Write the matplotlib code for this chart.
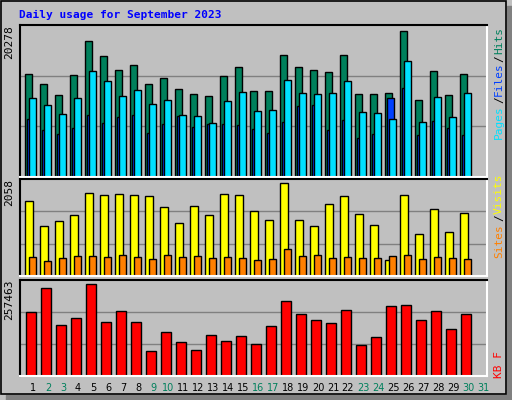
import numpy as np
import matplotlib.pyplot as plt
from matplotlib.patches import Rectangle

days = list(range(1, 32))
weekend = [2, 3, 9, 10, 16, 17, 23, 24, 30, 31]

hits = [14342, 12963, 11446, 14204, 18892, 16824, 14893, 15583, 12963, 13790,
        12273, 11584, 11170, 14066, 15307, 11997, 11997, 16962, 15307, 14893,
        14617, 16962, 11584, 11584, 11722, 20278, 10618, 14755, 11446, 14342]
files = [10894, 9929, 8688, 10894, 14755, 13376, 11170, 12135, 10067, 10618,
         8550, 8412, 7447, 10480, 11859, 9101, 9239, 13514, 11722, 11584,
         11722, 13376, 8964, 8826, 7998, 16134, 7585, 11032, 8274, 11722]
pages = [7998, 6481, 5930, 6757, 8550, 7447, 8274, 8550, 6068, 7309,
         8412, 6895, 7309, 7309, 7171, 6619, 6068, 7585, 9791, 9929,
         6481, 7860, 5378, 5930, 10894, 12411, 5792, 7722, 6757, 5792]
visits = [1655, 1096, 1208, 1342, 1834, 1790, 1812, 1790, 1767, 1521,
          1163, 1544, 1342, 1812, 1790, 1432, 1230, 2058, 1230, 1096,
          1588, 1767, 1365, 1119, 358, 1790, 917, 1476, 962, 1387]
sites = [425, 336, 403, 447, 447, 425, 470, 425, 380, 470,
         425, 447, 403, 425, 403, 358, 380, 604, 447, 470,
         403, 425, 403, 403, 447, 470, 380, 425, 403, 380]
kbytes = [178227, 246123, 141450, 161253, 257463, 149937, 181056, 149937, 70725, 121647,
          96186, 73554, 113160, 99015, 110331, 90528, 138621, 209346, 172569, 155595,
          147108, 183885, 87699, 107502, 195201, 198030, 155595, 181056, 130134, 172569]

C_HITS, C_FILES, C_PAGES = '#00805c', '#00e0ff', '#0040ff'
C_VISITS, C_SITES, C_KB = '#ffff00', '#ff8000', '#ff0000'
GRAY = '#c0c0c0'
MONO = 'DejaVu Sans Mono'

fig = plt.figure(figsize=(5.12, 4.0), dpi=100, facecolor=GRAY)

# outer frame with shadow
bg = fig.add_axes([0, 0, 1, 1])
bg.set_xlim(0, 512)
bg.set_ylim(400, 0)
bg.axis('off')
bg.add_patch(Rectangle((507, 6), 5, 394, color='#808080'))
bg.add_patch(Rectangle((6, 395), 506, 5, color='#808080'))
bg.add_patch(Rectangle((1, 1), 505, 393, fill=False, ec='black', lw=1.2))
bg.text(19, 15, 'Daily usage for September 2023', color='#0000ff',
        fontfamily=MONO, fontweight='bold', fontsize=8, va='center')


def panel(rect, series, maxval, label):
    ax = fig.add_axes(rect)
    ax.set_facecolor(GRAY)
    ax.set_xlim(0, 467)
    top = maxval * 1.04
    ax.set_ylim(0, top)
    for y in (top / 3, 2 * top / 3):
        ax.axhline(y, color='#808080', lw=1, zorder=0)
    x = np.arange(30) * 15
    for vals, off, w, col in series:
        ax.bar(x + off, vals, width=w, align='edge', color=col,
               edgecolor='black', lw=1, zorder=2)
    ax.set_xticks([])
    ax.set_yticks([])
    for s in ('top', 'left'):
        ax.spines[s].set_color('black')
    for s in ('bottom', 'right'):
        ax.spines[s].set_color('white')
    for s in ax.spines.values():
        s.set_linewidth(1.5)
    ax.text(-0.012, 1.0, label, transform=ax.transAxes, rotation=90,
            ha='right', va='top', fontfamily=MONO, fontsize=8)
    return ax


panel([0.039, 0.5575, 0.912, 0.38],
      [(hits, 5, 7, C_HITS), (pages, 7, 7, C_PAGES), (files, 9, 7, C_FILES)],
      max(hits), '20278')
panel([0.039, 0.31, 0.912, 0.2425],
      [(visits, 5, 8, C_VISITS), (sites, 9, 7, C_SITES)],
      max(visits), '2058')
ax3 = panel([0.039, 0.06, 0.912, 0.24],
            [(kbytes, 6, 10, C_KB)], max(kbytes), '257463')

# day labels
for d in days:
    bg.text(33 + 15 * (d - 1), 388, str(d), ha='center', va='center',
            fontsize=7, color='#00805c' if d in weekend else 'black')

# right side legends
legend = [('Hits', C_HITS, 41), ('/', 'black', 59), ('Files', C_FILES, 79),
          ('/', 'black', 100), ('Pages', C_FILES, 122),
          ('Visits', C_VISITS, 194), ('/', 'black', 218), ('Sites', C_SITES, 241),
          ('KB F', C_KB, 365)]
legend[2] = ('Files', C_PAGES, 79)
for txt, col, y in legend:
    bg.text(499, y, txt, rotation=90, ha='center', va='center', color=col,
            fontfamily=MONO, fontsize=8)

fig.savefig('out.png', dpi=100, facecolor=GRAY)
